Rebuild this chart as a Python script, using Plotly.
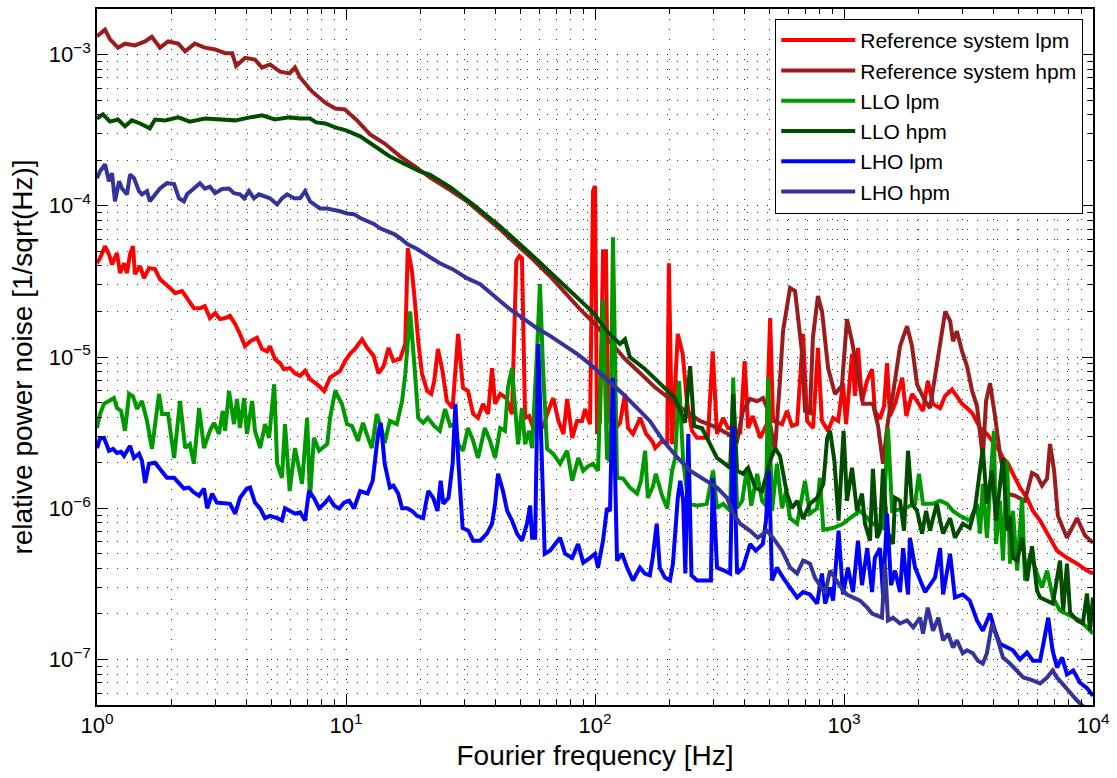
import plotly.graph_objects as go

# ---------------- data (frequency [Hz], relative power noise [1/sqrt(Hz)]) ----------------
ref_lpm = [(1.0,4.17e-5),(1.028,4.5e-5),(1.077,5.4e-5),(1.117,4.78e-5),(1.149,4.1e-5),(1.203,4.86e-5),(1.237,3.59e-5),(1.284,4.17e-5),(1.32,3.59e-5),(1.357,4.78e-5),(1.395,5.4e-5),(1.42,3.53e-5),(1.49,3.99e-5),(1.544,3.32e-5),(1.618,3.87e-5),(1.71,3.81e-5),(1.79,3.27e-5),(1.876,3.08e-5),(1.964,2.86e-5),(2.06,2.64e-5),(2.195,2.73e-5),(2.3,2.45e-5),(2.45,2.1e-5),(2.59,2.1e-5),(2.71,2.17e-5),(2.84,1.81e-5),(2.98,1.95e-5),(3.12,1.78e-5),(3.27,1.81e-5),(3.42,1.87e-5),(3.59,1.65e-5),(3.75,1.42e-5),(3.93,1.18e-5),(4.12,1.27e-5),(4.39,1.34e-5),(4.6,1.13e-5),(4.82,1.09e-5),(4.95,1.18e-5),(5.18,9.7e-6),(5.43,9.1e-6),(5.63,8.3e-6),(5.95,8.45e-6),(6.24,7.8e-6),(6.54,7.5e-6),(6.85,8.1e-6),(7.17,7.15e-6),(7.66,6.6e-6),(8.17,5.96e-6),(8.63,7.3e-6),(9.05,7.7e-6),(9.47,8.1e-6),(9.91,9.4e-6),(10.38,1.05e-5),(10.86,1.13e-5),(11.6,1.31e-5),(12.16,1.15e-5),(12.9,1.02e-5),(13.5,7.8e-6),(14.16,8.7e-6),(14.83,1.15e-5),(15.5,9.4e-6),(16.5,9.7e-6),(17.3,1.22e-5),(17.7,5.24e-5),(18.4,3.7e-5),(18.9,2.34e-5),(19.5,1.27e-5),(20.2,7.7e-6),(21.2,5.96e-6),(22.0,5.7e-6),(22.6,6.9e-6),(23.4,1.13e-5),(24.4,8.1e-6),(25.4,5.12e-6),(26.8,4.6e-6),(28.2,1.42e-5),(29.5,6.25e-6),(30.9,5.96e-6),(32.4,4.2e-6),(33.9,3.96e-6),(35.5,4.9e-6),(37.2,4.2e-6),(38.6,8.45e-6),(39.7,4.9e-6),(41.6,5.7e-6),(44,5.35e-6),(46.4,4.2e-6),(48.3,4.3e-5),(49.7,4.65e-5),(50.9,4.5e-5),(52.4,3.96e-6),(54.4,4.07e-6),(56.5,3.39e-6),(59.2,3.78e-6),(61.9,3.39e-6),(64.9,4.4e-6),(68,5.35e-6),(71.3,3.78e-6),(74.7,3.1e-6),(77.3,5.28e-6),(81,2.92e-6),(84.7,3.78e-6),(88.7,3.78e-6),(91.2,4.53e-6),(95.5,3.6e-6),(98.2,1.25e-4),(100,1.35e-4),(101.9,3.1e-6),(104.8,3.78e-6),(107.7,5.0e-5),(110.7,5.0e-5),(112.7,3.96e-6),(119,3.25e-6),(126,3.67e-6),(132,5.7e-6),(135.7,3.39e-6),(142,3.1e-6),(152,3.96e-6),(160.5,3.1e-6),(169.5,2.79e-6),(174.5,2.5e-6),(186,2.79e-6),(195,2.65e-6),(198,4.17e-5),(204,2.65e-6),(215,1.42e-5),(225,1.05e-5),(234,5.12e-6),(245,3.25e-6),(257,2.92e-6),(269,2.92e-6),(284,2.92e-6),(297,1.09e-5),(309,3.1e-6),(327,3.96e-6),(342,3.39e-6),(359,3.39e-6),(383,3.1e-6),(399,9.4e-6),(412,3.39e-6),(430,4.07e-6),(461,2.92e-6),(490,3.6e-6),(505,1.81e-5),(519,3.78e-6),(564,3.6e-6),(590,4.4e-6),(618,3.5e-6),(648,3.6e-6),(685,1.42e-5),(711,3.78e-6),(751,3.39e-6),(786,1.15e-5),(815,3.78e-6),(863,3.25e-6),(904,3.96e-6),(947,3.78e-6),(991,6.7e-6),(1019,3.6e-6),(1077,1.05e-5),(1107,5.53e-6),(1138,1.15e-5),(1181,5.12e-6),(1237,6.94e-6),(1296,8.3e-6),(1330,4.4e-6),(1395,3.9e-6),(1449,4.75e-6),(1489,9.1e-6),(1530,4.07e-6),(1603,4.9e-6),(1713,7.3e-6),(1780,4.07e-6),(1876,5.7e-6),(1964,5.12e-6),(2076,4.4e-6),(2170,6.94e-6),(2278,4.9e-6),(2431,4.6e-6),(2546,5.53e-6),(2715,6.1e-6),(2840,5.53e-6),(2980,4.9e-6),(3150,4.53e-6),(3290,4.2e-6),(3520,3.39e-6),(3750,3.1e-6),(3930,2.79e-6),(4150,2.5e-6),(4350,2.15e-6),(4560,1.97e-6),(4770,1.69e-6),(5090,1.37e-6),(5430,1.17e-6),(5740,9.6e-7),(6130,8.3e-7),(6540,6.8e-7),(7170,5.24e-7),(7860,4.7e-7),(8630,4.3e-7),(9460,3.87e-7),(10000,3.7e-7)]

ref_hpm = [(1.0,1.32e-3),(1.077,1.46e-3),(1.128,1.26e-3),(1.214,1.11e-3),(1.296,1.18e-3),(1.42,1.15e-3),(1.56,1.22e-3),(1.66,1.31e-3),(1.79,1.11e-3),(1.93,1.22e-3),(2.12,1.18e-3),(2.26,1.05e-3),(2.47,1.18e-3),(2.71,1.11e-3),(2.98,1.08e-3),(3.27,1.02e-3),(3.49,1.02e-3),(3.62,8.4e-4),(3.93,9.5e-4),(4.31,9.25e-4),(4.6,8.2e-4),(4.95,8.6e-4),(5.43,7.7e-4),(5.94,7.5e-4),(6.24,8.2e-4),(6.54,7.05e-4),(7.3,5.7e-4),(8.25,4.8e-4),(9.05,4.4e-4),(9.9,4.33e-4),(10.97,3.72e-4),(12.5,2.96e-4),(14.3,2.58e-4),(16.5,2.12e-4),(18.9,1.82e-4),(21.7,1.54e-4),(26.2,1.27e-4),(30.6,1.07e-4),(36.1,8.5e-5),(41.6,7.0e-5),(47.8,5.64e-5),(56.3,4.43e-5),(66,3.42e-5),(75.8,2.64e-5),(87,2.07e-5),(100,1.65e-5),(114.9,1.27e-5),(132,9.7e-6),(152,7.8e-6),(174,6.3e-6),(200,5.28e-6),(230,4.4e-6),(264,3.78e-6),(304,3.45e-6),(342,3.1e-6),(372,2.79e-6),(393,4.4e-6),(419,5.28e-6),(448,5.1e-6),(473,5.35e-6),(491,4.6e-6),(528,2.4e-6),(553,6.94e-6),(569,1.48e-5),(607,2.86e-5),(636,2.73e-5),(679,1.05e-5),(697,4.4e-6),(730,4.27e-6),(750,1.34e-5),(786,2.53e-5),(816,2.0e-5),(863,8.45e-6),(920,5.7e-6),(981,6.45e-6),(1028,1.78e-5),(1077,1.27e-5),(1128,8.1e-6),(1192,4.9e-6),(1307,4.9e-6),(1370,3.5e-6),(1434,1.97e-6),(1502,3.78e-6),(1573,5.7e-6),(1679,1.18e-5),(1791,1.6e-5),(1876,1.18e-5),(1964,6.6e-6),(2116,5.12e-6),(2216,4.6e-6),(2321,7.5e-6),(2430,1.27e-5),(2550,2.0e-5),(2670,1.73e-5),(2740,1.27e-5),(2840,1.48e-5),(2980,1.09e-5),(3120,8.7e-6),(3270,5.96e-6),(3420,4.75e-6),(3610,2.15e-6),(3720,5.12e-6),(3860,6.7e-6),(4040,4.07e-6),(4230,2.29e-6),(4520,1.25e-6),(4860,1.21e-6),(5330,1.12e-6),(5690,1.71e-6),(5960,1.64e-6),(6240,1.41e-6),(6540,1.57e-6),(6720,2.66e-6),(6980,1.77e-6),(7230,8.9e-7),(7860,6.37e-7),(8630,8.6e-7),(9290,6.6e-7),(10000,5.9e-7)]

llo_lpm = [(1.0,3.39e-6),(1.028,4.2e-6),(1.067,4.9e-6),(1.128,5.12e-6),(1.17,5.35e-6),(1.203,4.6e-6),(1.249,4.4e-6),(1.296,3.25e-6),(1.345,5.7e-6),(1.395,5.5e-6),(1.447,4.53e-6),(1.516,5.12e-6),(1.588,3.78e-6),(1.663,2.47e-6),(1.774,5.7e-6),(1.825,4.2e-6),(1.93,4.2e-6),(2.04,2.15e-6),(2.155,5.12e-6),(2.26,2.5e-6),(2.36,2.65e-6),(2.45,1.97e-6),(2.57,4.6e-6),(2.69,2.5e-6),(2.84,3.25e-6),(2.95,3.67e-6),(3.09,3.1e-6),(3.2,4.4e-6),(3.27,3.25e-6),(3.39,5.96e-6),(3.55,3.6e-6),(3.65,5.28e-6),(3.75,3.39e-6),(3.9,5.35e-6),(4.0,3.1e-6),(4.2,5.12e-6),(4.31,3.25e-6),(4.52,2.5e-6),(4.73,3.6e-6),(4.91,2.92e-6),(5.15,6.6e-6),(5.29,1.97e-6),(5.53,1.59e-6),(5.69,3.6e-6),(5.94,1.3e-6),(6.24,2.5e-6),(6.66,1.45e-6),(6.98,3.96e-6),(7.17,1.17e-6),(7.43,2.92e-6),(7.8,2.4e-6),(8.41,2.66e-6),(8.63,3.96e-6),(9.05,5.96e-6),(9.63,4.9e-6),(10.09,3.6e-6),(10.57,3.5e-6),(11.17,2.79e-6),(11.7,3.67e-6),(12.26,2.92e-6),(12.7,2.5e-6),(13.3,4.2e-6),(13.95,3.25e-6),(14.3,2.7e-6),(15.0,3.78e-6),(16.0,3.6e-6),(16.8,5.12e-6),(17.3,7.7e-6),(18.1,2.0e-5),(18.9,8.1e-6),(19.5,3.96e-6),(20.4,3.67e-6),(21.3,3.96e-6),(22.6,3.5e-6),(23.8,3.25e-6),(25.0,4.53e-6),(26.2,3.5e-6),(27.4,3.6e-6),(28.2,2.65e-6),(29.5,2.4e-6),(30.9,3.39e-6),(32.4,2.79e-6),(33.9,2.15e-6),(36.1,3.39e-6),(37.9,2.79e-6),(39.7,2.15e-6),(41.6,3.39e-6),(43.5,3.25e-6),(44.7,6.25e-6),(46.4,8.45e-6),(47.7,4.6e-6),(49.1,2.65e-6),(50.9,4.6e-6),(52.4,2.65e-6),(54.4,3.25e-6),(55.9,2.5e-6),(58.5,1.09e-5),(60.1,3.03e-5),(61.9,8.1e-6),(64.2,2.47e-6),(68,2.29e-6),(72.4,1.97e-6),(77.3,2.4e-6),(81,1.52e-6),(85.7,2.15e-6),(89.7,1.77e-6),(94,1.9e-6),(98.2,1.97e-6),(102.8,1.77e-6),(107.7,2.41e-5),(111.7,2.15e-6),(114.9,2.06e-6),(118.1,6.19e-5),(122.6,1.59e-6),(129.6,1.57e-6),(138,1.37e-6),(147.5,1.25e-6),(153,1.52e-6),(159,2.4e-6),(163,1.17e-6),(171,1.4e-6),(175.5,1.69e-6),(186,1.21e-6),(195,1.0e-6),(204,1.77e-6),(210,2.15e-6),(217.6,6.94e-6),(226,2.06e-6),(234,1.3e-6),(241,1.07e-6),(257,1.04e-6),(281,1.07e-6),(298,1.77e-6),(309,1.0e-6),(327,1.07e-6),(349,9.6e-7),(359,7.3e-6),(372,1.0e-6),(390,1.12e-6),(408,1.85e-6),(424,1.04e-6),(448,1.69e-6),(469,1.12e-6),(486,1.04e-6),(496,7.3e-6),(514,9.6e-7),(538,1.97e-6),(564,1.0e-6),(585,1.3e-6),(607,8.6e-7),(648,7.9e-7),(697,1.52e-6),(730,9.2e-7),(780,1.0e-6),(800,1.59e-6),(826,7.2e-7),(904,7.4e-7),(990,7.9e-7),(1057,8.6e-7),(1160,9.6e-7),(1307,7.9e-7),(1434,7.4e-7),(1502,3.39e-6),(1560,9.6e-7),(1727,9.9e-7),(1929,1.07e-6),(2000,1.69e-6),(2076,1.07e-6),(2278,1.07e-6),(2431,1.12e-6),(2595,1.07e-6),(2740,9.6e-7),(2920,8.9e-7),(3200,8.3e-7),(3420,1.07e-6),(3520,6.8e-7),(3610,1.45e-6),(3750,6.37e-7),(3930,2.15e-6),(4000,3.25e-6),(4080,5.8e-7),(4230,1.12e-6),(4350,4.5e-7),(4520,2.06e-6),(4640,4.3e-7),(4770,9.6e-7),(4960,3.87e-7),(5190,1.17e-6),(5330,3.33e-7),(5600,5.0e-7),(5960,3.7e-7),(6240,2.99e-7),(6540,3.87e-7),(6900,2.57e-7),(7370,2.1e-7),(8330,1.89e-7),(8850,1.81e-7),(9460,1.63e-7),(10000,1.48e-7)]

llo_hpm = [(1.0,3.77e-4),(1.057,4.02e-4),(1.128,3.6e-4),(1.214,3.72e-4),(1.296,3.35e-4),(1.38,3.67e-4),(1.49,3.5e-4),(1.63,3.25e-4),(1.71,3.72e-4),(1.88,3.67e-4),(2.12,3.84e-4),(2.36,3.6e-4),(2.71,3.77e-4),(3.12,3.72e-4),(3.59,3.67e-4),(4.12,3.84e-4),(4.6,3.96e-4),(5.18,3.72e-4),(5.94,3.84e-4),(6.54,3.77e-4),(7.17,3.77e-4),(7.6,3.56e-4),(8.25,3.5e-4),(9.05,3.3e-4),(10,3.15e-4),(11.4,2.88e-4),(13.1,2.47e-4),(15.0,2.12e-4),(17.3,1.88e-4),(19.8,1.69e-4),(21.7,1.61e-4),(26.2,1.33e-4),(32.4,1.02e-4),(41.6,7.3e-5),(56.3,4.65e-5),(72.4,3.17e-5),(98.8,1.95e-5),(111.7,1.48e-5),(126,1.22e-5),(132,1.31e-5),(138,1.0e-5),(159,8.3e-6),(182,6.7e-6),(210,5.35e-6),(230,3.67e-6),(241,8.7e-6),(250,3.5e-6),(269,3.38e-6),(309,2.15e-6),(349,1.85e-6),(359,5.7e-6),(372,1.77e-6),(393,1.69e-6),(412,1.85e-6),(440,1.37e-6),(469,1.3e-6),(505,2.06e-6),(529,2.5e-6),(553,2.22e-6),(590,1.25e-6),(618,1.0e-6),(648,1.12e-6),(685,8.5e-7),(730,1.07e-6),(780,1.17e-6),(826,1.45e-6),(856,2.92e-6),(879,3.25e-6),(915,2.06e-6),(951,8.27e-7),(996,3.25e-6),(1028,1.12e-6),(1077,1.85e-6),(1128,9.6e-7),(1181,1.25e-6),(1214,7.9e-7),(1272,6.1e-7),(1307,1.82e-6),(1357,6.37e-7),(1395,7.1e-7),(1434,1.82e-6),(1489,7.1e-7),(1573,5.8e-7),(1603,1.17e-6),(1679,1.12e-6),(1742,7.1e-7),(1808,2.4e-6),(1876,1.07e-6),(1964,9.6e-7),(2058,6.8e-7),(2137,9.6e-7),(2216,7.1e-7),(2278,8.6e-7),(2362,1.07e-6),(2431,8.3e-7),(2500,6.8e-7),(2667,8.6e-7),(2790,6.37e-7),(3000,7.9e-7),(3200,7.4e-7),(3360,1.0e-6),(3450,1.37e-6),(3610,2.5e-6),(3750,1.07e-6),(3930,1.77e-6),(4080,8.3e-7),(4230,1.45e-6),(4350,2.15e-6),(4520,7.1e-7),(4640,8.9e-7),(4770,4.7e-7),(4960,4.5e-7),(5190,6.4e-7),(5430,3.3e-7),(5690,5.6e-7),(5960,2.86e-7),(6130,2.57e-7),(6540,2.46e-7),(6900,2.34e-7),(7370,4.5e-7),(7590,2.1e-7),(7860,4.3e-7),(8090,2.04e-7),(8630,1.81e-7),(9100,1.73e-7),(9460,2.73e-7),(9730,1.55e-7),(10000,2.57e-7)]

lho_lpm = [(1.0,2.5e-6),(1.028,2.88e-6),(1.067,2.92e-6),(1.117,2.4e-6),(1.16,2.47e-6),(1.203,2.32e-6),(1.249,2.36e-6),(1.284,2.22e-6),(1.357,2.58e-6),(1.408,2.15e-6),(1.475,2.29e-6),(1.516,2.06e-6),(1.56,1.47e-6),(1.618,1.97e-6),(1.71,2.0e-6),(1.825,1.77e-6),(1.91,1.59e-6),(2.04,1.59e-6),(2.135,1.45e-6),(2.235,1.35e-6),(2.34,1.37e-6),(2.45,1.27e-6),(2.57,1.21e-6),(2.69,1.35e-6),(2.77,1.0e-6),(2.9,1.25e-6),(3.03,1.09e-6),(3.24,1.07e-6),(3.42,1.07e-6),(3.59,9.2e-7),(3.75,1.17e-6),(4.0,1.35e-6),(4.12,1.37e-6),(4.31,1.09e-6),(4.52,9.96e-7),(4.73,8.6e-7),(4.95,8.9e-7),(5.29,8.6e-7),(5.53,8.3e-7),(5.69,1.0e-6),(5.95,9.6e-7),(6.24,9.2e-7),(6.54,9.4e-7),(6.85,8.3e-7),(7.1,1.3e-6),(7.43,1.17e-6),(7.8,1.0e-6),(8.17,1.07e-6),(8.55,1.17e-6),(8.97,1.04e-6),(9.4,9.96e-7),(9.82,1.09e-6),(10.3,1.12e-6),(10.76,9.96e-7),(11.4,1.3e-6),(12.2,1.25e-6),(12.8,1.52e-6),(13.5,3.25e-6),(13.8,3.67e-6),(14.3,1.97e-6),(15.0,1.37e-6),(15.5,1.41e-6),(16.2,1.25e-6),(16.8,1.0e-6),(17.6,1.0e-6),(18.4,9.6e-7),(19.3,8.9e-7),(20.4,8.6e-7),(21.4,1.3e-6),(22.4,1.17e-6),(23.3,9.6e-7),(24.0,1.52e-6),(24.6,1.07e-6),(25.8,1.17e-6),(26.8,1.97e-6),(27.5,4.9e-6),(28.3,1.97e-6),(29.4,7.4e-7),(31,7.1e-7),(32.4,6.1e-7),(34.6,6.1e-7),(36.8,6.8e-7),(38.6,7.9e-7),(39.7,1.07e-6),(40.8,1.69e-6),(42.7,1.3e-6),(44.4,9.6e-7),(46.4,8.3e-7),(48.6,6.8e-7),(50.9,6.1e-7),(53.3,7.9e-7),(54.9,1.04e-6),(55.9,6.37e-7),(57.5,6.37e-7),(59.2,1.22e-5),(61.1,1.69e-6),(62.8,5.0e-7),(65.9,5.24e-7),(69.1,5.8e-7),(72.4,6.37e-7),(75.8,5.0e-7),(81,4.7e-7),(85.5,5.8e-7),(89.7,4.37e-7),(95.5,4.7e-7),(100,5.0e-7),(102.8,4.05e-7),(107.7,6.1e-7),(111.7,1.0e-6),(114.9,9.6e-7),(118.1,7.3e-6),(122.6,4.5e-7),(128.4,5.0e-7),(134.5,4.05e-7),(142,3.33e-7),(151.5,4.05e-7),(158.6,3.7e-7),(166,3.6e-7),(170.5,4.7e-7),(177,7.9e-7),(182,4.05e-7),(190.8,3.48e-7),(200,3.33e-7),(205.6,4.3e-7),(215,1.17e-6),(220,1.52e-6),(226,1.12e-6),(230.5,3.7e-7),(237,3.1e-6),(244,3.6e-7),(257,3.33e-7),(276,3.33e-7),(292,3.33e-7),(297,1.59e-6),(309,4.05e-7),(327,3.9e-7),(349,3.7e-7),(359,3.5e-6),(372,3.7e-7),(393,4.05e-7),(420,5.8e-7),(442,5.24e-7),(472,5.8e-7),(486,8.3e-7),(500,1.77e-6),(514,3.33e-7),(538,4.05e-7),(569,3.48e-7),(608,2.99e-7),(648,2.57e-7),(685,2.79e-7),(730,2.69e-7),(780,2.34e-7),(815,3.7e-7),(840,2.34e-7),(879,2.99e-7),(904,2.45e-7),(951,7.1e-7),(991,2.69e-7),(1037,4.05e-7),(1087,2.79e-7),(1138,6.1e-7),(1181,3.1e-7),(1240,5.45e-7),(1296,2.79e-7),(1330,4.7e-7),(1395,5.45e-7),(1434,2.69e-7),(1489,9.2e-7),(1545,3.1e-7),(1603,3.87e-7),(1679,2.79e-7),(1727,5.45e-7),(1808,2.69e-7),(1840,6.37e-7),(1929,4.05e-7),(2116,2.79e-7),(2216,3.1e-7),(2321,3.48e-7),(2431,5.45e-7),(2500,2.69e-7),(2667,5.0e-7),(2790,2.57e-7),(3000,2.69e-7),(3200,2.45e-7),(3420,1.81e-7),(3610,1.55e-7),(3860,2.01e-7),(4040,1.55e-7),(4230,1.27e-7),(4520,1.2e-7),(4770,1.15e-7),(5090,1.0e-7),(5430,1.11e-7),(5740,9.8e-8),(6130,9.8e-8),(6360,1.34e-7),(6610,1.89e-7),(6880,1.15e-7),(7170,8.85e-8),(7520,1.03e-7),(7860,7.97e-8),(8330,8.45e-8),(8850,7.05e-8),(9460,6.45e-8),(10000,5.76e-8)]

lho_hpm = [(1.0,1.52e-4),(1.028,1.69e-4),(1.077,1.88e-4),(1.117,1.45e-4),(1.149,1.64e-4),(1.181,1.07e-4),(1.226,1.45e-4),(1.26,1.3e-4),(1.32,1.19e-4),(1.357,1.61e-4),(1.408,1.52e-4),(1.475,1.25e-4),(1.516,1.19e-4),(1.588,1.25e-4),(1.63,1.07e-4),(1.71,1.19e-4),(1.79,1.3e-4),(1.91,1.41e-4),(2.04,1.39e-4),(2.135,1.12e-4),(2.235,1.07e-4),(2.3,1.19e-4),(2.45,1.3e-4),(2.59,1.41e-4),(2.71,1.3e-4),(2.84,1.34e-4),(2.98,1.21e-4),(3.18,1.29e-4),(3.39,1.3e-4),(3.55,1.21e-4),(3.75,1.19e-4),(3.9,1.12e-4),(4.08,1.25e-4),(4.27,1.12e-4),(4.47,1.19e-4),(4.68,1.16e-4),(4.95,1.12e-4),(5.29,1.02e-4),(5.53,1.12e-4),(5.8,1.19e-4),(6.19,1.12e-4),(6.54,1.12e-4),(6.85,1.25e-4),(7.17,1.07e-4),(7.5,1.02e-4),(7.86,9.6e-5),(8.4,9.6e-5),(8.97,9.4e-5),(9.47,9.2e-5),(10.1,8.9e-5),(10.76,8.8e-5),(11.4,8.3e-5),(12.2,7.9e-5),(13.0,7.55e-5),(13.7,7.1e-5),(14.6,6.8e-5),(15.6,6.5e-5),(16.5,6.1e-5),(17.7,5.57e-5),(19.3,5.17e-5),(21.3,4.65e-5),(23.8,4.17e-5),(26.8,3.81e-5),(30.6,3.32e-5),(34.6,3.03e-5),(40.4,2.45e-5),(45.5,2.07e-5),(51.3,1.81e-5),(58.5,1.55e-5),(66,1.38e-5),(74.4,1.22e-5),(84.7,1.05e-5),(95.5,8.97e-6),(107.7,7.5e-6),(118.1,6.45e-6),(129.6,5.7e-6),(147.5,4.6e-6),(166,3.78e-6),(188,2.79e-6),(215,2.15e-6),(241,1.77e-6),(272,1.57e-6),(309,1.37e-6),(339,1.17e-6),(359,9.2e-7),(383,7.9e-7),(420,7.1e-7),(451,6.37e-7),(490,7.1e-7),(519,6.37e-7),(564,5.24e-7),(608,4.05e-7),(648,3.7e-7),(685,4.5e-7),(730,4.3e-7),(764,3.48e-7),(800,3.1e-7),(840,2.73e-7),(879,3.87e-7),(935,3.33e-7),(991,2.86e-7),(1028,2.69e-7),(1087,2.57e-7),(1160,2.45e-7),(1240,2.2e-7),(1296,2.01e-7),(1357,1.95e-7),(1420,1.89e-7),(1461,4.3e-7),(1502,1.81e-7),(1573,1.89e-7),(1679,1.73e-7),(1791,1.81e-7),(1898,1.63e-7),(2020,1.89e-7),(2076,1.48e-7),(2170,2.2e-7),(2278,1.55e-7),(2392,1.89e-7),(2500,1.34e-7),(2620,1.48e-7),(2740,1.2e-7),(2840,1.34e-7),(3000,1.1e-7),(3120,1.15e-7),(3290,1.1e-7),(3450,9.8e-8),(3610,9.4e-8),(3750,1.1e-7),(3930,1.73e-7),(4150,1.34e-7),(4350,1.03e-7),(4640,9.4e-8),(4960,8.45e-8),(5250,7.6e-8),(5690,7.3e-8),(6130,6.94e-8),(6540,7.6e-8),(6880,8.45e-8),(7170,7.6e-8),(7520,6.94e-8),(8090,5.96e-8),(8630,5.35e-8),(9030,4.98e-8),(9460,4.6e-8)]

series_names = ["Reference system lpm", "Reference system hpm", "LLO lpm", "LLO hpm", "LHO lpm", "LHO hpm"]
series_data = [ref_lpm, ref_hpm, llo_lpm, llo_hpm, lho_lpm, lho_hpm]
series_colors = ["#ff0000", "#9b1c1c", "#009900", "#004d00", "#0000ff", "#333399"]

x_tickvals = [1, 10, 100, 1000, 10000]
x_ticktext = ["10<sup>0</sup>", "10<sup>1</sup>", "10<sup>2</sup>", "10<sup>3</sup>", "10<sup>4</sup>"]
y_tickvals = [1e-7, 1e-6, 1e-5, 1e-4, 1e-3]
y_ticktext = ["10<sup>\u22127</sup>", "10<sup>\u22126</sup>", "10<sup>\u22125</sup>", "10<sup>\u22124</sup>", "10<sup>\u22123</sup>"]

FONT = "Liberation Sans, Arial, Helvetica, sans-serif"

fig = go.Figure()
for name, data, col in zip(series_names, series_data, series_colors):
    fig.add_trace(go.Scatter(
        x=[p[0] for p in data], y=[p[1] for p in data],
        mode="lines", name=name,
        line=dict(color=col, width=4),
    ))

grid_dash = "1px,9px"
grid_col = "rgba(0,0,0,0.8)"
axis_common = dict(
    type="log", showline=True, linecolor="black", linewidth=1.6, mirror="ticks",
    ticks="inside", ticklen=11, tickwidth=1.2, tickcolor="black",
    showgrid=True, gridcolor=grid_col, gridwidth=1, griddash=grid_dash,
    zeroline=False, tickfont=dict(family=FONT, size=22, color="black"),
    minor=dict(ticks="inside", ticklen=5, tickcolor="black", dtick="D1",
               showgrid=True, gridcolor=grid_col, gridwidth=1, griddash=grid_dash),
)

fig.update_layout(
    width=1117, height=778,
    margin=dict(l=97, r=24, t=7, b=73),
    paper_bgcolor="white", plot_bgcolor="white",
    font=dict(family=FONT, color="black"),
    xaxis=dict(axis_common, range=[0, 4], tickvals=x_tickvals, ticktext=x_ticktext,
               title=dict(text="Fourier frequency [Hz]", font=dict(size=28), standoff=8)),
    yaxis=dict(axis_common, range=[-7.30103, -2.69897], tickvals=y_tickvals, ticktext=y_ticktext,
               title=dict(text="relative power noise [1/sqrt(Hz)]", font=dict(size=28), standoff=8)),
    legend=dict(x=0.99, y=0.986, xanchor="right", yanchor="top",
                bgcolor="white", bordercolor="black", borderwidth=1.2,
                font=dict(family=FONT, size=21, color="black"),
                tracegroupgap=0, itemwidth=74),
    showlegend=True,
)

fig.write_html("out.html")
